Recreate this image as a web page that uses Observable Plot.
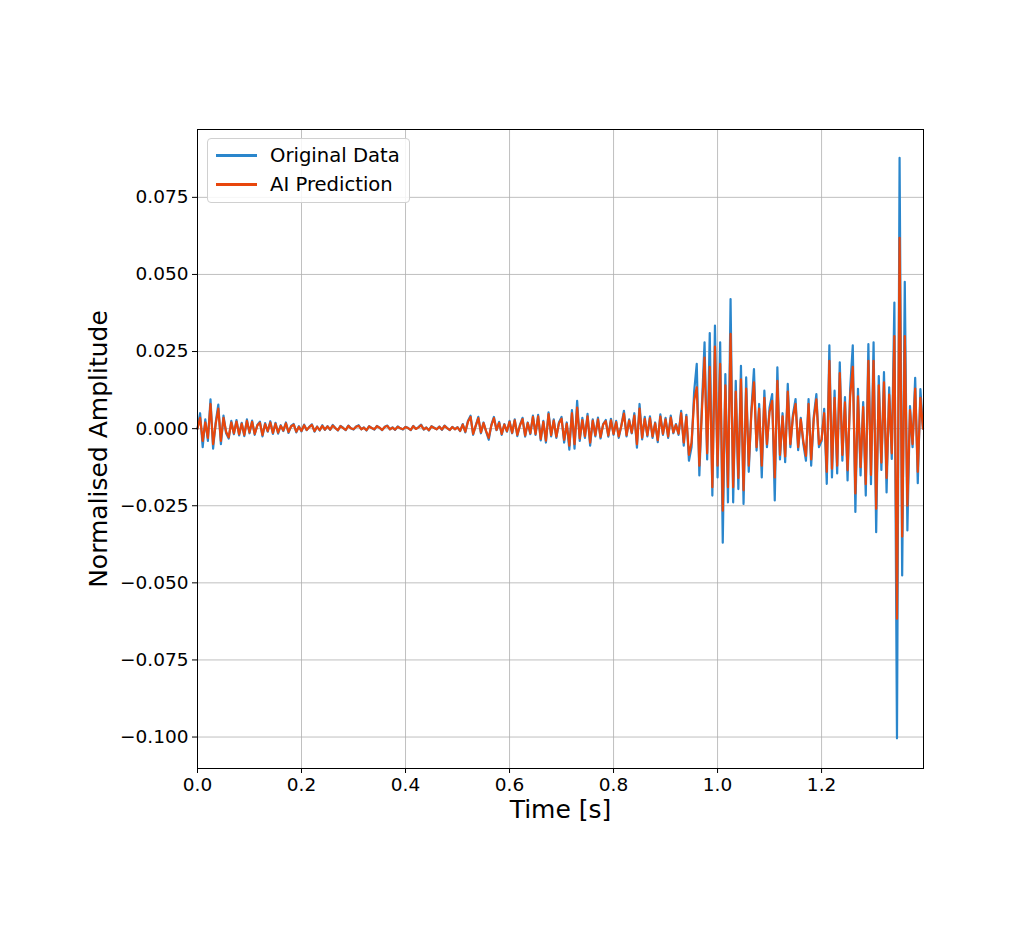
<!DOCTYPE html>
<html>
<head>
<meta charset="utf-8">
<script src="https://cdn.jsdelivr.net/npm/d3@7"></script>
<script src="https://cdn.jsdelivr.net/npm/@observablehq/plot@0.6"></script>
<style>
  html, body { margin: 0; padding: 0; background: #fff; }
  #wrap { position: relative; width: 1024px; height: 950px; font-family: "DejaVu Sans", sans-serif; }
  #legend { position: absolute; left: 207px; top: 138px; width: 201px; height: 63px;
            border: 1px solid #d0d0d0; border-radius: 4px; background: rgba(255,255,255,0.85); }
  .item { position: absolute; left: 0; height: 24px; width: 200px; }
  .swatch { position: absolute; left: 8px; width: 41px; height: 3px; }
  .lbl { position: absolute; left: 62px; font-size: 19.6px; color: #000; white-space: nowrap; line-height: 24px; top: 0; }
</style>
</head>
<body>
<div id="wrap"></div>
<script>
// ---- data (amplitudes in units of 1e-3, one sample every DT seconds) ----
const DT = 0.005;           // sample spacing [s]
const UNIT = 0.001;         // amplitude unit
const xTicks = [0.0, 0.2, 0.4, 0.6, 0.8, 1.0, 1.2];
const yTicks = [-0.100, -0.075, -0.050, -0.025, 0.000, 0.025, 0.050, 0.075];
const seriesNames = ["Original Data", "AI Prediction"];

// 0.00 – 0.50 s
const originalQuiet = [
  0.0, 5.0, -6.0, 3.0, -4.0, 9.5, -6.5, 2.0, 7.8, -5.0,
  4.2, -1.5, -3.2, 2.5, -1.8, 2.8, -2.2, 1.9, -2.4, 3.0,
  -1.5, 2.6, -2.0, 1.2, 2.3, -2.5, 1.8, -1.0, 2.4, -1.7,
  1.9, -1.6, 1.1, -0.8, 2.0, -1.4, 0.9, 1.5, -1.2, 0.8,
  -0.9, 1.3, -0.5, 0.6, 1.4, -1.0, 0.7, -0.6, 1.1, -0.4,
  0.8, -0.4, 1.2, 0.2, -0.6, 0.9, 0.3, -0.5, 1.0, 0.1,
  -0.3, 0.7, 1.1, -0.2, 0.4, -0.6, 0.8, 0.2, -0.3, 0.9,
  0.3, -0.5, 0.6, 1.0, -0.2, 0.4, -0.4, 0.7, 0.1, -0.3,
  0.6, 0.2, -0.5, 0.9, -0.1, 0.5, 1.3, -0.3, 0.4, -0.6,
  0.8, 0.3, -0.2, 0.7, -0.4, 1.0, 0.2, -0.5, 0.6, -0.2
];
const predictionQuiet = [
  0.0, 3.5, -4.0, 2.0, -3.0, 8.0, -5.0, 1.5, 6.5, -4.0,
  3.5, -1.0, -2.8, 2.0, -1.5, 2.3, -1.8, 1.6, -2.0, 2.5,
  -1.2, 2.2, -1.7, 1.0, 1.9, -2.1, 1.5, -0.8, 2.0, -1.4,
  1.6, -1.3, 0.9, -0.6, 1.7, -1.1, 0.7, 1.3, -1.0, 0.6,
  -0.7, 1.1, -0.4, 0.5, 1.2, -0.8, 0.6, -0.5, 0.9, -0.3,
  0.7, -0.3, 1.0, 0.2, -0.5, 0.8, 0.2, -0.4, 0.9, 0.1,
  -0.2, 0.6, 0.9, -0.2, 0.3, -0.5, 0.7, 0.2, -0.2, 0.8,
  0.3, -0.4, 0.5, 0.9, -0.2, 0.3, -0.3, 0.6, 0.1, -0.2,
  0.5, 0.2, -0.4, 0.8, -0.1, 0.4, 1.1, -0.2, 0.3, -0.5,
  0.7, 0.2, -0.2, 0.6, -0.3, 0.9, 0.2, -0.4, 0.5, -0.2
];
// 0.50 – 0.95 s
const originalRising = [
  0.5, -0.8, 1.5, -1.2, 2.5, 4.2, -2.0, 1.0, 3.8, -1.5,
  2.0, -1.0, -3.6, 1.2, 3.8, -0.5, 2.2, -2.0, 1.5, -1.0,
  2.5, -1.5, 3.0, -2.4, 1.2, 3.5, -2.6, 2.0, -1.8, 4.2,
  -2.0, 4.5, -3.8, 2.5, -4.5, 5.3, -2.5, 3.0, -3.0, 2.0,
  3.8, -4.5, 2.0, -6.8, 6.0, -6.5, 9.0, -4.0, 3.5, -3.0,
  4.8, -5.5, 3.0, -2.5, 3.6, -3.2, 1.5, 2.8, -2.6, 3.2,
  -2.0, 2.5, -3.0, 1.0, 5.8, -2.5, 3.0, -1.5, 5.0, -6.2,
  8.0, -3.5, 3.8, -2.5, 4.0, -3.0, 2.0, -4.4, 4.6, -2.0,
  3.5, -3.0, 4.2, -1.5, 1.5, -2.0, 5.8, -5.5, 4.5, -10.4
];
const predictionRising = [
  0.4, -0.7, 1.3, -1.0, 2.2, 3.8, -1.7, 0.9, 3.4, -1.2,
  1.8, -0.8, -3.0, 1.0, 3.4, -0.4, 1.9, -1.7, 1.3, -0.8,
  2.2, -1.3, 2.7, -2.0, 1.0, 3.1, -2.2, 1.8, -1.5, 3.8,
  -1.7, 4.0, -3.3, 2.2, -3.9, 4.7, -2.1, 2.6, -2.6, 1.7,
  3.2, -3.6, 1.6, -5.5, 5.0, -5.0, 6.8, -3.2, 2.8, -2.4,
  4.0, -4.5, 2.6, -2.1, 3.0, -2.7, 1.3, 2.4, -2.2, 2.7,
  -1.7, 2.1, -2.5, 0.9, 4.9, -2.1, 2.6, -1.3, 4.2, -5.0,
  6.5, -2.9, 3.2, -2.1, 3.4, -2.5, 1.7, -3.7, 3.9, -1.7,
  3.0, -2.5, 3.6, -1.2, 1.2, -1.6, 5.0, -4.5, 3.8, -8.5
];
// 0.95 – 1.20 s
const originalBurst = [
  -6.0, 12.0, 21.0, -15.2, 8.0, 28.0, -10.0, 31.0, -21.7, 33.4,
  -15.8, 28.0, -37.0, 17.7, -23.9, 42.0, -23.9, 15.5, -19.6, 20.4,
  -24.4, 16.6, -14.0, 6.0, 19.3, -7.1, 8.0, -15.8, 12.3, -6.0,
  6.9, 11.2, -23.3, 19.9, -10.0, 5.0, -10.9, 14.5, -6.0, 4.6,
  9.6, -7.0, 3.5, -5.0, -10.4, 9.6, -12.0, 4.0, 11.2, -6.0
];
const predictionBurst = [
  -4.5, 9.0, 13.4, -12.0, 6.0, 23.0, -8.0, 20.0, -19.0, 26.6,
  -12.0, 21.0, -26.6, 14.0, -19.0, 30.7, -19.0, 12.0, -16.0, 16.0,
  -20.0, 13.0, -12.0, 5.0, 15.0, -6.0, 6.5, -12.0, 10.0, -5.0,
  5.5, 9.0, -15.8, 15.5, -8.5, 4.0, -9.0, 12.0, -5.0, 3.8,
  8.0, -6.0, 3.0, -4.2, -8.8, 8.0, -10.0, 3.2, 9.5, -5.0
];
// 1.20 – 1.395 s
const originalFinal = [
  -4.0, 6.4, -17.9, 27.0, -15.8, 12.3, -14.5, 21.5, -10.4, 10.2,
  -16.8, 12.9, 27.0, -27.0, 12.9, -15.2, 8.6, -21.7, 27.4, -18.0,
  28.0, -33.6, 17.0, -13.4, 18.3, -20.7, 13.4, -9.8, 40.9, -100.4,
  87.8, -47.6, 47.6, -33.0, 7.3, -6.0, 16.5, -17.7, 12.8, 0.0
];
const predictionFinal = [
  -3.5, 5.0, -14.0, 22.0, -13.0, 10.0, -12.0, 18.0, -8.5, 8.5,
  -13.5, 10.5, 20.0, -21.0, 10.5, -12.5, 7.0, -18.0, 22.0, -15.0,
  22.0, -26.0, 14.0, -11.0, 15.0, -16.0, 11.0, -8.0, 30.0, -61.6,
  61.9, -35.0, 30.0, -25.0, 6.0, -5.0, 13.0, -14.0, 10.0, 0.0
];

const BLUE = "#2a86cc";
const ORANGE = "#e8460c";

const original = [...originalQuiet, ...originalRising, ...originalBurst, ...originalFinal];
const prediction = [...predictionQuiet, ...predictionRising, ...predictionBurst, ...predictionFinal];
const toRows = arr => arr.map((v, i) => ({t: i * DT, v: v * UNIT}));
const rowsOrig = toRows(original);
const rowsPred = toRows(prediction);

const chart = Plot.plot({
  width: 1024,
  height: 950,
  marginLeft: 197,
  marginRight: 101,
  marginTop: 129,
  marginBottom: 182,
  style: {fontFamily: "DejaVu Sans, sans-serif", fontSize: "18.5px", background: "white", color: "black"},
  x: {domain: [0, 1.396]},
  y: {domain: [-0.1102, 0.0970]},
  marks: [
    Plot.gridX(xTicks, {stroke: "#b0b0b0", strokeOpacity: 1, strokeWidth: 0.8}),
    Plot.gridY(yTicks, {stroke: "#b0b0b0", strokeOpacity: 1, strokeWidth: 0.8}),
    Plot.line(rowsOrig, {x: "t", y: "v", stroke: BLUE, strokeWidth: 2.2}),
    Plot.line(rowsPred, {x: "t", y: "v", stroke: ORANGE, strokeWidth: 2.2}),
    Plot.frame({stroke: "black", strokeWidth: 1}),
    Plot.axisX(xTicks, {tickFormat: d3.format(".1f"), tickSize: 5, tickPadding: 4, fontSize: 18.5, label: null}),
    Plot.axisY(yTicks, {tickFormat: d3.format(".3f"), tickSize: 5, tickPadding: 4, fontSize: 18.5, label: null}),
    Plot.text(["Time [s]"], {frameAnchor: "bottom", lineAnchor: "middle", textAnchor: "middle", dy: 41, fontSize: 25, fill: "black"}),
    Plot.text(["Normalised Amplitude"], {frameAnchor: "left", lineAnchor: "middle", textAnchor: "middle", dx: -99, rotate: -90, fontSize: 25, fill: "black"})
  ]
});

const wrap = document.getElementById("wrap");
wrap.appendChild(chart);

const legend = document.createElement("div");
legend.id = "legend";
[[seriesNames[0], BLUE, 5], [seriesNames[1], ORANGE, 34]].forEach(([name, color, top]) => {
  const item = document.createElement("div");
  item.className = "item";
  item.style.top = top + "px";
  const sw = document.createElement("div");
  sw.className = "swatch";
  sw.style.background = color;
  sw.style.top = "10px";
  const lb = document.createElement("div");
  lb.className = "lbl";
  lb.textContent = name;
  item.appendChild(sw);
  item.appendChild(lb);
  legend.appendChild(item);
});
wrap.appendChild(legend);
</script>
</body>
</html>
